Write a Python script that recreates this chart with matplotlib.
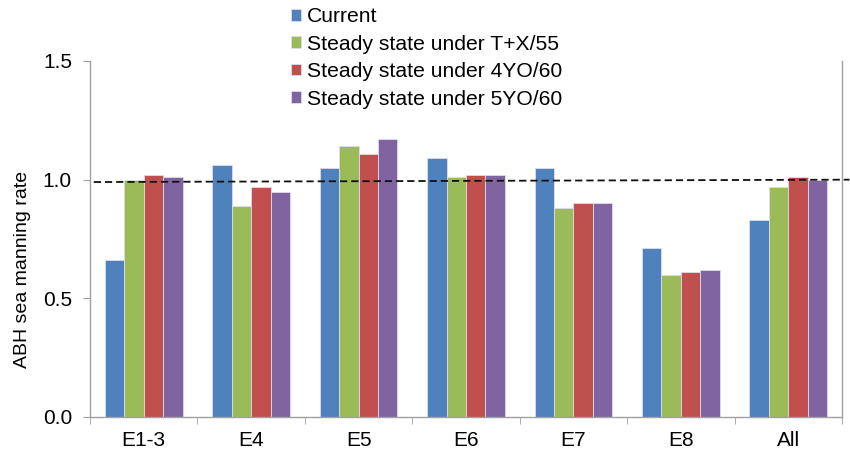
import numpy as np
import matplotlib
matplotlib.use('Agg')
from matplotlib import pyplot as plt
from matplotlib.ticker import FormatStrFormatter

plt.rcParams['font.family'] = ['Liberation Sans', 'DejaVu Sans']

# Data
categories = ['E1-3', 'E4', 'E5', 'E6', 'E7', 'E8', 'All']
current = [0.66, 1.06, 1.05, 1.09, 1.05, 0.71, 0.83]
steady_tx55 = [1.00, 0.89, 1.14, 1.01, 0.88, 0.60, 0.97]
steady_4yo60 = [1.02, 0.97, 1.11, 1.02, 0.90, 0.61, 1.01]
steady_5yo60 = [1.01, 0.95, 1.17, 1.02, 0.90, 0.62, 1.00]
series_names = ['Current', 'Steady state under T+X/55',
                'Steady state under 4YO/60', 'Steady state under 5YO/60']
reference_line = [0.99, 1.0]   # dashed target line, left end / right end
y_ticks = [0.0, 0.5, 1.0, 1.5]

colors = ['#4F81BD', '#9BBB59', '#C0504D', '#8064A2']
series = [current, steady_tx55, steady_4yo60, steady_5yo60]

fig = plt.figure(figsize=(8.5, 4.55), dpi=100)
ax = fig.add_axes([90 / 850, 1 - 417 / 455, 752 / 850, 356 / 455])

x = np.arange(len(categories))
width = 0.181
for i, (vals, name, col) in enumerate(zip(series, series_names, colors)):
    ax.bar(x + (i - 1.5) * width, vals, width, color=col, label=name,
           edgecolor='#dcdcec', linewidth=0.6, zorder=2)

# dashed reference line, running past the right edge of the plot
ax.plot([0.005, 1.01], reference_line, transform=ax.get_yaxis_transform(),
        color='#111111', linestyle=(0, (4, 2.2)), linewidth=1.3,
        clip_on=False, zorder=3)

ax.set_xlim(-0.5, len(categories) - 0.5)
ax.set_ylim(0, 1.5)
ax.set_yticks(y_ticks)
ax.yaxis.set_major_formatter(FormatStrFormatter('%.1f'))

ax.set_xticks(x)
ax.set_xticklabels(categories)
ax.set_xticks(np.arange(len(categories) + 1) - 0.5, minor=True)
ax.tick_params(axis='x', which='major', length=0, pad=10, labelsize=15)
ax.tick_params(axis='x', which='minor', length=5, color='#a0a0a0', direction='out')
ax.tick_params(axis='y', length=5, color='#a0a0a0', direction='out', pad=8, labelsize=15)

for side in ['left', 'bottom', 'right']:
    ax.spines[side].set_color('#a0a0a0')
    ax.spines[side].set_linewidth(1.0)
ax.spines['top'].set_visible(False)

ax.set_ylabel('ABH sea manning rate', fontsize=14)
ax.yaxis.set_label_coords(-0.079, 0.415)

ax.legend(loc='upper left', bbox_to_anchor=(278 / 850, 1.012),
          bbox_transform=fig.transFigure, frameon=False, fontsize=15.2,
          handlelength=0.48, handleheight=0.48, handletextpad=0.3,
          labelspacing=0.4, borderaxespad=0.2)

fig.savefig('out.png', dpi=100)
